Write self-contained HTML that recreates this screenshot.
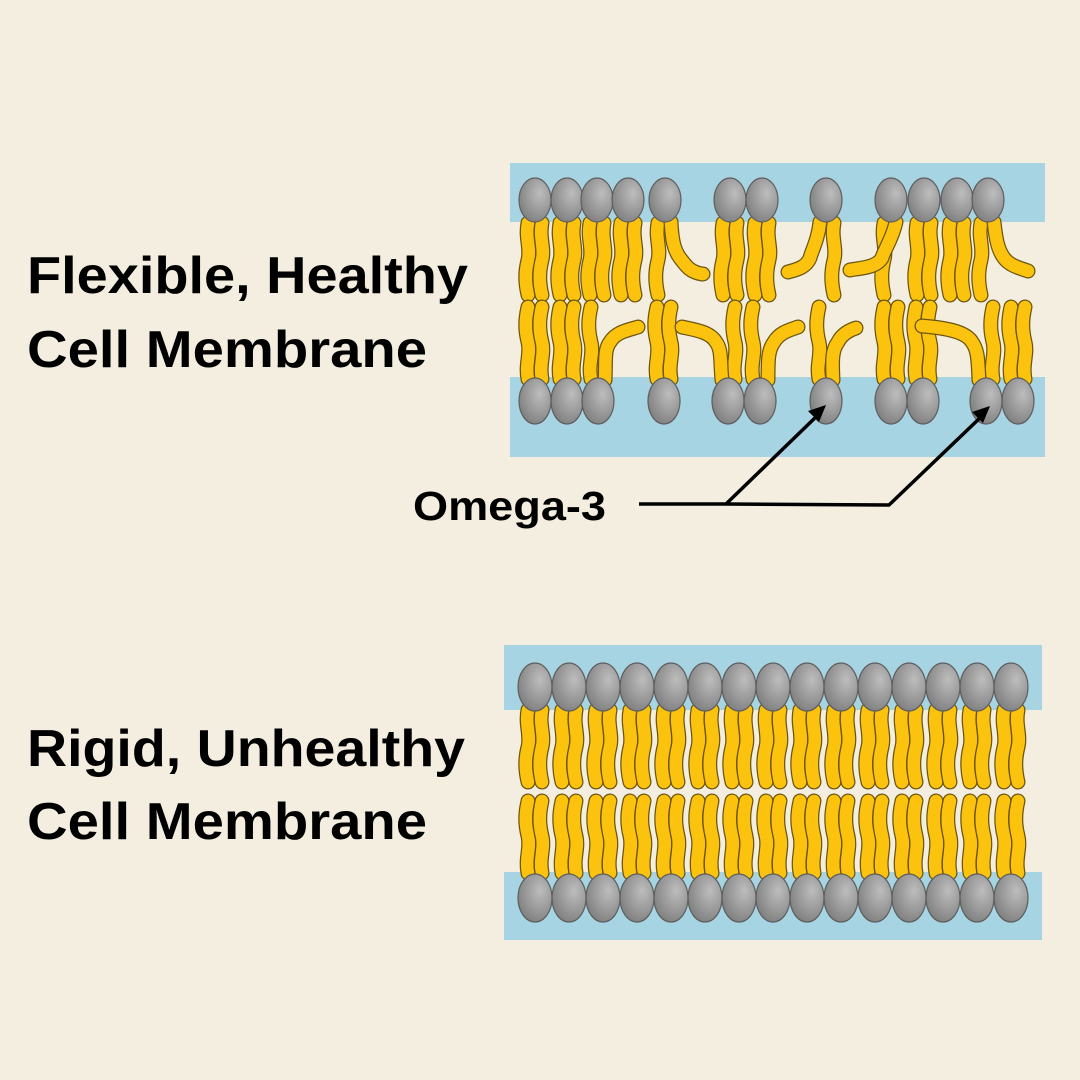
<!DOCTYPE html>
<html><head><meta charset="utf-8"><style>
html,body{margin:0;padding:0;background:#f4eee0}
svg{display:block}
text{font-family:"Liberation Sans",sans-serif;font-weight:bold;fill:#000}
</style></head><body>
<svg width="1080" height="1080" viewBox="0 0 1080 1080" xmlns="http://www.w3.org/2000/svg">
<defs>
<radialGradient id="hg" cx="0.65" cy="0.35" r="0.75">
<stop offset="0" stop-color="#bdbdbd"/><stop offset="1" stop-color="#7c7c7c"/>
</radialGradient>
<path id="w" d="M0 3 C-3 18 3 28 0 40 S-3 62 0 75"/>
<g id="t">
<use href="#w" stroke="#6b5510" stroke-width="15" fill="none" stroke-linecap="round"/>
<use href="#w" stroke="#fcc30e" stroke-width="12.5" fill="none" stroke-linecap="round"/>
</g>
<g id="pd"><use href="#t" x="-7"/><use href="#t" x="7"/></g>
<g id="pu" transform="scale(1,-1)"><use href="#t" x="-7"/><use href="#t" x="7"/></g>
</defs>
<rect width="1080" height="1080" fill="#f4eee0"/>

<!-- TOP MEMBRANE -->
<rect x="510" y="163" width="535" height="59" fill="#a7d4e3"/>
<rect x="510" y="377" width="535" height="80" fill="#a7d4e3"/>
<g stroke-linecap="round" fill="none">
<use href="#pd" x="535" y="220"/><use href="#pd" x="567" y="220"/><use href="#pd" x="597" y="220"/><use href="#pd" x="628" y="220"/>
<use href="#t" x="658" y="220"/>
<use href="#pd" x="730" y="220"/><use href="#pd" x="762" y="220"/>
<use href="#t" x="834" y="220"/>
<use href="#t" x="884" y="220"/>
<use href="#pd" x="924" y="220"/><use href="#pd" x="957" y="220"/>
<use href="#t" x="981" y="220"/>
<g stroke="#6b5510" stroke-width="15">
<path d="M671 222 C672 240 674 250 680 258 C686 266 690 272 702 274 L703 274"/>
<path d="M820 222 C818 240 812 250 810 258 C806 268 795 270 788 272"/>
<path d="M896 222 C892 240 884 250 882 258 C876 268 860 268 850 270"/>
<path d="M994 222 C996 240 998 250 1004 258 C1010 266 1020 268 1028 271"/>
</g>
<g stroke="#fcc30e" stroke-width="12.5">
<path d="M671 222 C672 240 674 250 680 258 C686 266 690 272 702 274 L703 274"/>
<path d="M820 222 C818 240 812 250 810 258 C806 268 795 270 788 272"/>
<path d="M896 222 C892 240 884 250 882 258 C876 268 860 268 850 270"/>
<path d="M994 222 C996 240 998 250 1004 258 C1010 266 1020 268 1028 271"/>
</g>
<use href="#pu" x="535" y="382"/><use href="#pu" x="567" y="382"/>
<use href="#t" x="591" y="-382" transform="scale(1,-1)"/>
<use href="#pu" x="664" y="382"/>
<use href="#t" x="735" y="-382" transform="scale(1,-1)"/>
<use href="#t" x="753" y="-382" transform="scale(1,-1)"/>
<use href="#t" x="819" y="-382" transform="scale(1,-1)"/>
<use href="#pu" x="891" y="382"/><use href="#pu" x="923" y="382"/>
<use href="#t" x="993" y="-382" transform="scale(1,-1)"/>
<use href="#pu" x="1018" y="382"/>
<g stroke="#6b5510" stroke-width="15">
<path d="M605 380 C606 360 604 350 610 342 C616 332 628 330 638 327"/>
<path d="M722 380 C720 360 722 350 716 342 C710 332 696 330 682 327"/>
<path d="M768 380 C768 360 768 350 774 342 C780 332 790 330 798 327"/>
<path d="M833 380 C832 360 832 350 838 342 C842 334 850 330 856 328"/>
<path d="M979 380 C978 360 978 350 972 342 C966 332 948 328 922 326"/>
</g>
<g stroke="#fcc30e" stroke-width="12.5">
<path d="M605 380 C606 360 604 350 610 342 C616 332 628 330 638 327"/>
<path d="M722 380 C720 360 722 350 716 342 C710 332 696 330 682 327"/>
<path d="M768 380 C768 360 768 350 774 342 C780 332 790 330 798 327"/>
<path d="M833 380 C832 360 832 350 838 342 C842 334 850 330 856 328"/>
<path d="M979 380 C978 360 978 350 972 342 C966 332 948 328 922 326"/>
</g>
</g>
<g fill="url(#hg)" stroke="#5e5e5e" stroke-width="1.2">
<ellipse cx="535" cy="200" rx="16" ry="22"/><ellipse cx="567" cy="200" rx="16" ry="22"/><ellipse cx="597" cy="200" rx="16" ry="22"/><ellipse cx="628" cy="200" rx="16" ry="22"/><ellipse cx="665" cy="200" rx="16" ry="22"/>
<ellipse cx="730" cy="200" rx="16" ry="22"/><ellipse cx="762" cy="200" rx="16" ry="22"/><ellipse cx="826" cy="200" rx="16" ry="22"/>
<ellipse cx="891" cy="200" rx="16" ry="22"/><ellipse cx="924" cy="200" rx="16" ry="22"/><ellipse cx="957" cy="200" rx="16" ry="22"/><ellipse cx="988" cy="200" rx="16" ry="22"/>
<ellipse cx="535" cy="401" rx="16" ry="23"/><ellipse cx="567" cy="401" rx="16" ry="23"/><ellipse cx="598" cy="401" rx="16" ry="23"/><ellipse cx="664" cy="401" rx="16" ry="23"/>
<ellipse cx="728" cy="401" rx="16" ry="23"/><ellipse cx="760" cy="401" rx="16" ry="23"/><ellipse cx="826" cy="401" rx="16" ry="23"/>
<ellipse cx="891" cy="401" rx="16" ry="23"/><ellipse cx="923" cy="401" rx="16" ry="23"/><ellipse cx="986" cy="401" rx="16" ry="23"/><ellipse cx="1018" cy="401" rx="16" ry="23"/>
</g>

<g stroke="#000" stroke-width="3.5" fill="none" stroke-linejoin="round">
<path d="M639 504 L726 504 L818 415"/>
<path d="M726 504 L889 505 L982 416"/>
</g>
<g fill="#000">
<path d="M826 405 L808 411 L819 422 Z"/>
<path d="M990 406 L972 412 L983 423 Z"/>
</g>

<!-- BOTTOM MEMBRANE -->
<rect x="504" y="645" width="538" height="65" fill="#a7d4e3"/>
<rect x="504" y="872" width="538" height="68" fill="#a7d4e3"/>
<g>
<use href="#pd" x="535" y="707"/><use href="#pd" x="569" y="707"/><use href="#pd" x="603" y="707"/><use href="#pd" x="637" y="707"/><use href="#pd" x="671" y="707"/>
<use href="#pd" x="705" y="707"/><use href="#pd" x="739" y="707"/><use href="#pd" x="773" y="707"/><use href="#pd" x="807" y="707"/><use href="#pd" x="841" y="707"/>
<use href="#pd" x="875" y="707"/><use href="#pd" x="909" y="707"/><use href="#pd" x="943" y="707"/><use href="#pd" x="977" y="707"/><use href="#pd" x="1011" y="707"/>
<use href="#pu" x="535" y="876"/><use href="#pu" x="569" y="876"/><use href="#pu" x="603" y="876"/><use href="#pu" x="637" y="876"/><use href="#pu" x="671" y="876"/>
<use href="#pu" x="705" y="876"/><use href="#pu" x="739" y="876"/><use href="#pu" x="773" y="876"/><use href="#pu" x="807" y="876"/><use href="#pu" x="841" y="876"/>
<use href="#pu" x="875" y="876"/><use href="#pu" x="909" y="876"/><use href="#pu" x="943" y="876"/><use href="#pu" x="977" y="876"/><use href="#pu" x="1011" y="876"/>
</g>
<g fill="url(#hg)" stroke="#5e5e5e" stroke-width="1.2">
<ellipse cx="535" cy="687" rx="17" ry="24"/><ellipse cx="569" cy="687" rx="17" ry="24"/><ellipse cx="603" cy="687" rx="17" ry="24"/><ellipse cx="637" cy="687" rx="17" ry="24"/><ellipse cx="671" cy="687" rx="17" ry="24"/>
<ellipse cx="705" cy="687" rx="17" ry="24"/><ellipse cx="739" cy="687" rx="17" ry="24"/><ellipse cx="773" cy="687" rx="17" ry="24"/><ellipse cx="807" cy="687" rx="17" ry="24"/><ellipse cx="841" cy="687" rx="17" ry="24"/>
<ellipse cx="875" cy="687" rx="17" ry="24"/><ellipse cx="909" cy="687" rx="17" ry="24"/><ellipse cx="943" cy="687" rx="17" ry="24"/><ellipse cx="977" cy="687" rx="17" ry="24"/><ellipse cx="1011" cy="687" rx="17" ry="24"/>
<ellipse cx="535" cy="898" rx="17" ry="24"/><ellipse cx="569" cy="898" rx="17" ry="24"/><ellipse cx="603" cy="898" rx="17" ry="24"/><ellipse cx="637" cy="898" rx="17" ry="24"/><ellipse cx="671" cy="898" rx="17" ry="24"/>
<ellipse cx="705" cy="898" rx="17" ry="24"/><ellipse cx="739" cy="898" rx="17" ry="24"/><ellipse cx="773" cy="898" rx="17" ry="24"/><ellipse cx="807" cy="898" rx="17" ry="24"/><ellipse cx="841" cy="898" rx="17" ry="24"/>
<ellipse cx="875" cy="898" rx="17" ry="24"/><ellipse cx="909" cy="898" rx="17" ry="24"/><ellipse cx="943" cy="898" rx="17" ry="24"/><ellipse cx="977" cy="898" rx="17" ry="24"/><ellipse cx="1011" cy="898" rx="17" ry="24"/>
</g>

<text x="27" y="293" font-size="52" textLength="441" lengthAdjust="spacingAndGlyphs">Flexible, Healthy</text>
<text x="27" y="367" font-size="52" textLength="400" lengthAdjust="spacingAndGlyphs">Cell Membrane</text>
<text x="413" y="520" font-size="41" textLength="193" lengthAdjust="spacingAndGlyphs">Omega-3</text>
<text x="27" y="766" font-size="52" textLength="438" lengthAdjust="spacingAndGlyphs">Rigid, Unhealthy</text>
<text x="27" y="839" font-size="52" textLength="400" lengthAdjust="spacingAndGlyphs">Cell Membrane</text>
</svg>
</body></html>
